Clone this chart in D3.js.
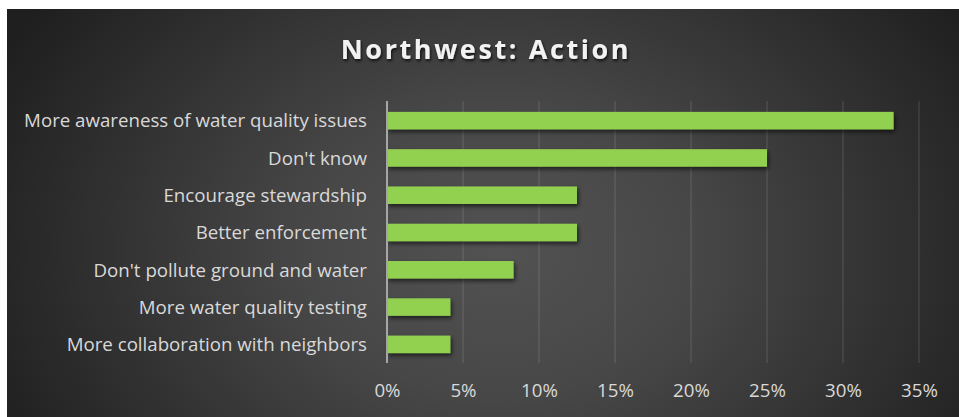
<!DOCTYPE html>
<html><head><meta charset="utf-8">
<script src="https://cdn.jsdelivr.net/npm/d3@7"></script>
<style>
html,body{margin:0;padding:0;background:#fff;}
svg{display:block;}
</style></head>
<body>
<script>
const categories = ["More awareness of water quality issues","Don't know","Encourage stewardship","Better enforcement","Don't pollute ground and water","More water quality testing","More collaboration with neighbors"];
const values = [0.3333,0.25,0.125,0.125,0.0833,0.0417,0.0417];
const tickValues = [0,0.05,0.10,0.15,0.20,0.25,0.30,0.35];
const tickLabels = ["0%","5%","10%","15%","20%","25%","30%","35%"];
const title = "Northwest: Action";

const W=959,H=417;
const FONT="'Open Sans', sans-serif";
const svg=d3.select("body").append("svg").attr("width",W).attr("height",H);
const defs=svg.append("defs");
const rg=defs.append("radialGradient").attr("id","bg").attr("gradientUnits","userSpaceOnUse")
  .attr("cx",500).attr("cy",250).attr("r",560)
  .attr("gradientTransform","translate(500 250) scale(1 0.75) translate(-500 -250)");
rg.append("stop").attr("offset","0").attr("stop-color","#525252");
rg.append("stop").attr("offset","0.35").attr("stop-color","#474747");
rg.append("stop").attr("offset","1").attr("stop-color","#1f1f1f");
const sh=defs.append("filter").attr("id","sh").attr("x","-10%").attr("y","-30%").attr("width","120%").attr("height","180%");
sh.append("feDropShadow").attr("dx",1.5).attr("dy",2.5).attr("stdDeviation",2).attr("flood-color","#000").attr("flood-opacity",0.6);
const tsh=defs.append("filter").attr("id","tsh").attr("x","-10%").attr("y","-30%").attr("width","120%").attr("height","180%");
tsh.append("feDropShadow").attr("dx",1).attr("dy",2).attr("stdDeviation",1.5).attr("flood-color","#000").attr("flood-opacity",0.75);

svg.append("rect").attr("x",7).attr("y",9).attr("width",W-7).attr("height",H-9).attr("fill","url(#bg)");

const x=d3.scaleLinear().domain([0,0.35]).range([387,919]);
const y=d3.scaleBand().domain(categories).range([102,363]).paddingInner(0.53).paddingOuter(0.265);

// gridlines
svg.append("g").selectAll("line").data(tickValues.slice(1)).join("line")
  .attr("x1",d=>x(d)).attr("x2",d=>x(d)).attr("y1",101).attr("y2",363)
  .attr("stroke","#ffffff").attr("stroke-opacity",0.12).attr("stroke-width",1.3);

// bars
svg.append("g").selectAll("rect").data(values).join("rect")
  .attr("x",x(0)).attr("y",(d,i)=>y(categories[i]))
  .attr("width",d=>x(d)-x(0)).attr("height",y.bandwidth())
  .attr("fill","#92d050").attr("filter","url(#sh)");

// axis line
svg.append("line").attr("x1",x(0)).attr("x2",x(0)).attr("y1",101).attr("y2",363)
  .attr("stroke","#a6a6a6").attr("stroke-width",2);

// category labels
const labels=svg.append("g").selectAll("text").data(categories).join("text")
  .attr("x",367).attr("y",d=>y(d)+y.bandwidth()/2).attr("dy","0.36em")
  .attr("text-anchor","end").attr("fill","#d9d9d9")
  .style("font-family",FONT).style("font-size","17px")
  .text(d=>d);
const w0=labels.nodes()[0].getComputedTextLength();
const fs=17*343/w0;
labels.style("font-size",fs+"px");

// x tick labels
const xAxis=d3.axisBottom(x).tickValues(tickValues).tickFormat((d,i)=>tickLabels[i]).tickSize(0).tickPadding(0);
const gx=svg.append("g").attr("transform","translate(0,397)").call(xAxis);
gx.select(".domain").remove();
gx.selectAll("text").attr("dy",0).attr("y",0).attr("fill","#d9d9d9")
  .style("font-family",FONT).style("font-size",fs+"px");

// title
svg.append("text").attr("x",486).attr("y",59).attr("text-anchor","middle")
  .attr("fill","#f2f2f2").attr("filter","url(#tsh)")
  .style("font-family",FONT).style("font-weight","bold")
  .style("font-size","27px").style("letter-spacing","2.6px")
  .text(title);
</script>
</body></html>
